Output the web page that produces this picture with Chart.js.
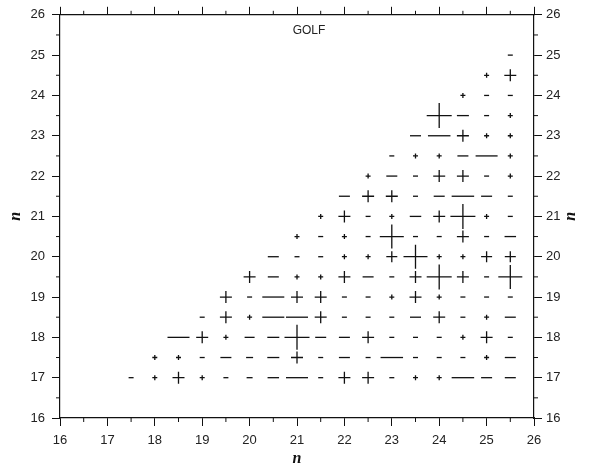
<!DOCTYPE html>
<html>
<head>
<meta charset="utf-8">
<title>GOLF</title>
<script src="https://cdn.jsdelivr.net/npm/chart.js@4.4.1/dist/chart.umd.min.js"></script>
<style>
  html, body { margin: 0; padding: 0; background: #fff; }
  #wrap { width: 590px; height: 469px; }
</style>
</head>
<body>
<div id="wrap"><canvas id="golfChart"></canvas></div>
<script>
// n values of the grid (rows = y, columns = x)
const rowN = [17, 17.5, 18, 18.5, 19, 19.5, 20, 20.5, 21, 21.5, 22, 22.5, 23, 23.5, 24, 24.5, 25];
const colN = [17.5, 18, 18.5, 19, 19.5, 20, 20.5, 21, 21.5, 22, 22.5, 23, 23.5, 24, 24.5, 25, 25.5];
const tickLabels = [16, 17, 18, 19, 20, 21, 22, 23, 24, 25, 26];

// signed value per cell, a row uses the columns with colN > rowN
// (positive -> plus sign, negative -> minus sign, size ~ |value|)
const row17   = [-1, 1, 2.4, 1, -1, -1.2, -2.3, -4.4, -1, 2.4, 2.4, -1, 1, 1, -4.5, -2.2, -2.2];
const row17_5 = [1, 1, -1, -2.2, -1.4, -2.4, 2.4, -1, -2.2, -1, -4.5, -1, -1, -1, 1, -2.2];
const row18   = [-4.4, 2.4, 1, -2, -2.4, 5, -2.2, -2.2, 2.4, -1, -1, -1, 1, 2.4, -1];
const row18_5 = [-1, 2.4, 1, -4.4, -4.4, 2.4, -1, -1, -1, -2.2, 2.4, -1, 1, -2.2];
const row19   = [2.4, -1, -4.4, 2.4, 2.4, -1, -1, 1, 2.4, 1, -1, -1, -1];
const row19_5 = [2.4, -2.2, 1, 1, 2.4, -2.2, -1, 2.4, 5, 2.4, -1, 4.8];
const row20   = [-2.2, -1, -1, 1, 1, 2.2, 4.8, 1, 1, 2.2, 2.2];
const row20_5 = [1, -1, 1, -1, 4.8, -1, -1, 2.4, -1, -2.3];
const row21   = [1, 2.4, -1, 1, -2.3, 2.4, 5, 1, -1];
const row21_5 = [-2.2, 2.4, 2.4, -1, -2.2, -4.5, -2.2, -1];
const row22   = [1, -2.2, -1, 2.4, 2.4, -1, 1];
const row22_5 = [-1, 1, 1, -2.2, -4.4, 1];
const row23   = [-2.2, -4.5, 2.4, 1, 1];
const row23_5 = [5, -2.4, -1, 1];
const row24   = [1, -1, -1];
const row24_5 = [1, 2.4];
const row25   = [-1];

const rows = [row17, row17_5, row18, row18_5, row19, row19_5, row20, row20_5, row21,
              row21_5, row22, row22_5, row23, row23_5, row24, row24_5, row25];

const radiusPerUnit = 2.5;

const points = [];
rows.forEach((vals, i) => {
    const cols = colN.filter(c => c > rowN[i]);
    vals.forEach((v, j) => {
        points.push({ x: cols[j], y: rowN[i], v: v });
    });
});

const tickFont = { family: "'Liberation Sans', Arial, sans-serif", size: 13 };

function sideAxis(position, showLabels, size, padding) {
    return {
        type: 'linear',
        position: position,
        min: 16,
        max: 26,
        afterBuildTicks: (scale) => {
            scale.ticks = tickLabels.map(v => ({ value: v }));
        },
        afterFit: (scale) => {
            if (position === 'top' || position === 'bottom') {
                scale.height = size;
            } else {
                scale.width = size;
            }
        },
        grid: {
            drawOnChartArea: false,
            drawTicks: true,
            tickLength: 8,
            tickColor: '#111',
            tickWidth: 1,
        },
        border: { display: true, color: '#111', width: 1.2 },
        ticks: {
            display: showLabels,
            color: '#222',
            font: tickFont,
            padding: padding,
            maxRotation: 0,
            autoSkip: false,
        },
    };
}

const frameExtras = {
    id: 'frameExtras',
    afterDraw(chart) {
        const ctx = chart.ctx;
        const xs = chart.scales.x;
        const ys = chart.scales.y;
        const area = chart.chartArea;
        ctx.save();
        // minor ticks at the half values
        ctx.strokeStyle = '#111';
        ctx.lineWidth = 1;
        ctx.beginPath();
        for (let i = 0; i < tickLabels.length - 1; i++) {
            const mid = (tickLabels[i] + tickLabels[i + 1]) / 2;
            const px = xs.getPixelForValue(mid);
            const py = ys.getPixelForValue(mid);
            ctx.moveTo(px, area.bottom); ctx.lineTo(px, area.bottom + 4);
            ctx.moveTo(px, area.top); ctx.lineTo(px, area.top - 4);
            ctx.moveTo(area.left, py); ctx.lineTo(area.left - 4, py);
            ctx.moveTo(area.right, py); ctx.lineTo(area.right + 4, py);
        }
        ctx.stroke();

        // title inside the frame
        ctx.fillStyle = '#222';
        ctx.font = "12px 'Liberation Sans', Arial, sans-serif";
        ctx.textAlign = 'center';
        ctx.textBaseline = 'middle';
        ctx.fillText('GOLF', area.left + 249, area.top + 16);

        // axis titles
        ctx.fillStyle = '#111';
        ctx.font = "italic bold 16px 'Liberation Serif', 'DejaVu Serif', serif";
        ctx.fillText('n', (area.left + area.right) / 2, area.bottom + 41);
        [16, 571].forEach(cx => {
            ctx.save();
            ctx.translate(cx, (area.top + area.bottom) / 2);
            ctx.rotate(-Math.PI / 2);
            ctx.fillText('n', 0, 0);
            ctx.restore();
        });
        ctx.restore();
    }
};

const golfChart = new Chart(document.getElementById('golfChart').getContext('2d'), {
    type: 'scatter',
    data: {
        datasets: [{
            label: 'GOLF',
            data: points,
            pointStyle: (c) => (c.raw && c.raw.v > 0) ? 'cross' : 'line',
            radius: (c) => c.raw ? Math.abs(c.raw.v) * radiusPerUnit : 0,
            hoverRadius: (c) => c.raw ? Math.abs(c.raw.v) * radiusPerUnit : 0,
            borderColor: '#111',
            backgroundColor: '#111',
            borderWidth: 1.3,
            hoverBorderWidth: 1.3,
            clip: false,
        }]
    },
    options: {
        responsive: true,
        maintainAspectRatio: false,
        animation: false,
        events: [],
        layout: { padding: 0 },
        plugins: {
            legend: { display: false },
            tooltip: { enabled: false },
        },
        scales: {
            x: sideAxis('bottom', true, 51, 7),
            x2: sideAxis('top', false, 9, 0),
            y: sideAxis('left', true, 60, 7),
            y2: sideAxis('right', true, 56, 4),
        }
    },
    plugins: [frameExtras]
});
</script>
</body>
</html>
